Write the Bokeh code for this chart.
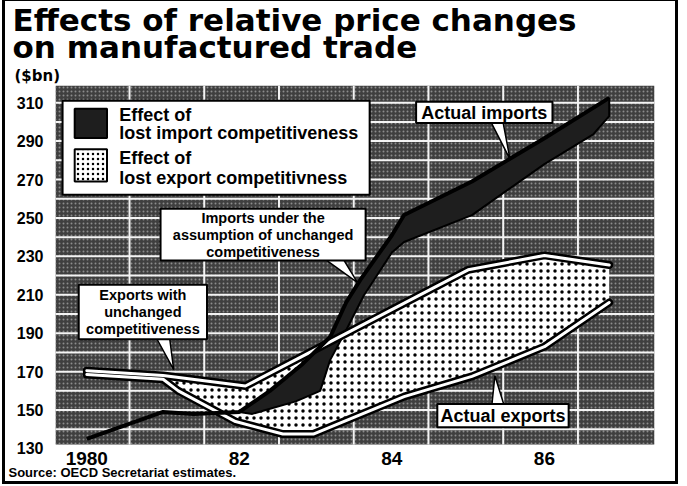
from bokeh.plotting import figure
from bokeh.models import Range1d, FixedTicker, Title
from bokeh.core.properties import value
from bokeh.embed import file_html
from bokeh.resources import INLINE

# ---------------- data ($bn) ----------------
imp_actual_x = [1980.0, 1981.0, 1981.4, 1982.0, 1982.4, 1982.83, 1983.19, 1983.4, 1983.59, 1984.0, 1984.16, 1985.05, 1986.0, 1986.85]
imp_actual_y = [135, 149, 148, 149, 160, 174, 188, 206, 218, 241, 251.5, 269, 291.5, 312.5]

imp_unch_x = [1982.0, 1982.17, 1982.74, 1983.06, 1983.19, 1983.4, 1983.63, 1984.0, 1984.16, 1985.05, 1986.0, 1986.64, 1986.85]
imp_unch_y = [149, 148, 154.5, 160, 176, 191.5, 209.5, 232, 237.5, 251.5, 278, 293.5, 303]

exp_actual_x = [1980.0, 1981.0, 1981.2, 1981.95, 1982.57, 1982.97, 1984.16, 1985.05, 1986.0, 1986.85]
exp_actual_y = [168.5, 166, 160, 144, 137.5, 137.5, 157, 167.5, 183, 206]

exp_unch_x = [1980.0, 1981.0, 1982.08, 1984.42, 1985.0, 1986.0, 1986.85]
exp_unch_y = [170.5, 168, 162.5, 211, 223, 230.5, 225.5]

y_ticks = [130, 150, 170, 190, 210, 230, 250, 270, 290, 310]
x_ticks = [1980, 1982, 1984, 1986]
x_tick_labels = ["1980", "82", "84", "86"]

title_lines = ["Effects of relative price changes", "on manufactured trade"]
unit_text = "($bn)"
source_text = "Source: OECD Secretariat estimates."
legend_texts = [["Effect of", "lost import competitiveness"], ["Effect of", "lost export competitivness"]]

# ---------------- layout helpers (page pixel -> data) ----------------
OX, OY = 5, 1            # page position of the figure's canvas
CW, CH = 670, 480        # canvas size
FL, FR, FT, FB = 55, 648, 85, 447   # frame edges, page pixels


def X(px):
    return 1980 + (px - 86) / 75.5


def Y(py):
    return 130 + (444 - py) / 1.9


FONT = "Liberation Sans"

p = figure(width=CW, height=CH, output_backend="svg", toolbar_location=None,
           x_range=Range1d(X(FL), X(FR)), y_range=Range1d(Y(FB), Y(FT)),
           min_border_left=FL - OX, min_border_right=OX + CW - FR,
           min_border_top=FT - OY, min_border_bottom=OY + CH - FB)
p.styles = {"box-sizing": "content-box", "border": "3px solid black",
            "border-top-width": "1px", "margin-left": "2px", "margin-top": "0px"}
p.outline_line_color = None
p.background_fill_color = "white"
p.border_fill_color = "white"
p.xgrid.visible = False
p.ygrid.visible = False

# axes
for ax in (p.yaxis[0], p.xaxis[0]):
    ax.axis_line_color = None
    ax.major_tick_line_color = None
    ax.minor_tick_line_color = None
    ax.major_tick_out = 0
    ax.major_tick_in = 0
    ax.minor_tick_out = 0
    ax.minor_tick_in = 0
    ax.major_label_text_font = FONT
    ax.major_label_text_font_style = "bold"
    ax.major_label_text_color = "black"
p.yaxis[0].ticker = FixedTicker(ticks=y_ticks)
p.yaxis[0].major_label_text_font_size = "16px"
p.yaxis[0].major_label_standoff = 12
p.xaxis[0].ticker = FixedTicker(ticks=x_ticks)
p.xaxis[0].major_label_overrides = {t: l for t, l in zip(x_ticks, x_tick_labels)}
p.xaxis[0].major_label_text_font_size = "19px"
p.xaxis[0].major_label_standoff = 0

# textured background
p.quad(left=X(FL), right=X(FR), top=Y(FT), bottom=Y(440), fill_color="#3f3f3f",
       hatch_pattern="dot", hatch_color="#8c8c8c", hatch_scale=4, hatch_weight=1.3,
       line_color=None)
grid_y = list(range(140, 320, 10))
p.segment(x0=[X(FL)] * len(grid_y), y0=grid_y, x1=[X(FR)] * len(grid_y), y1=grid_y,
          line_color="#f4f4f4", line_width=2)
grid_x = [1980.56 + 0.98 * k for k in range(7)]
p.segment(x0=grid_x, y0=[Y(440)] * len(grid_x), x1=grid_x, y1=[Y(FT)] * len(grid_x),
          line_color="#f4f4f4", line_width=2)

# stippled export area
p.patch(exp_unch_x + exp_actual_x[::-1], exp_unch_y + exp_actual_y[::-1],
        fill_color="white", hatch_pattern="dot", hatch_color="black", hatch_scale=7,
        hatch_weight=1.4, line_color=None)

# dark import band
band_x = [x for x in imp_actual_x if x >= 1982.0]
band_y = [y for x, y in zip(imp_actual_x, imp_actual_y) if x >= 1982.0]
p.patch(band_x + imp_unch_x[::-1], band_y + imp_unch_y[::-1],
        fill_color="#1e1e1e", line_color="black", line_width=2)

# export lines (white core with black edges)
for xs, ys in ((exp_unch_x, exp_unch_y), (exp_actual_x, exp_actual_y)):
    p.line(xs, ys, line_color="black", line_width=8, line_join="round", line_cap="round")
for xs, ys in ((exp_unch_x, exp_unch_y), (exp_actual_x, exp_actual_y)):
    p.line(xs, ys, line_color="white", line_width=3, line_join="round", line_cap="round")

# actual imports line
p.line(imp_actual_x, imp_actual_y, line_color="black", line_width=4, line_join="round")


def box(l, t, r, b):
    p.quad(left=X(l), right=X(r), top=Y(t), bottom=Y(b), fill_color="white",
           line_color="black", line_width=2)


def pointer(pts):
    p.patch([X(a) for a, _ in pts], [Y(b) for _, b in pts], fill_color="white",
            line_color="black", line_width=1.5)


def txt(px, py, lines, size, align="center", style="bold", step=17):
    p.text(x=[X(px)] * len(lines), y=[Y(py + i * step) for i in range(len(lines))], text=lines,
           text_font=value(FONT), text_font_style=style, text_font_size=size,
           text_align=align, text_baseline="middle", text_color="black")


# legend
box(62, 100, 366, 193)
p.quad(left=X(74), right=X(106), top=Y(108), bottom=Y(137), fill_color="#1e1e1e",
       line_color="black", line_width=2)
p.quad(left=X(74), right=X(106), top=Y(148), bottom=Y(180), fill_color="white",
       hatch_pattern="dot", hatch_color="black", hatch_scale=5, hatch_weight=1.4,
       line_color="black", line_width=2)
txt(118, 114, legend_texts[0], "18px", align="left", step=18)
txt(118, 157, legend_texts[1], "18px", align="left", step=19)

# callouts
pointer([(486, 121), (498, 121), (505, 158)])
box(412, 101, 547, 122)
txt(479.5, 112, ["Actual imports"], "18px")

pointer([(487, 401), (499, 401), (490, 372)])
box(433, 400, 563, 423)
txt(498, 412, ["Actual exports"], "18px")

pointer([(322, 257), (340, 257), (354, 280)])
box(159, 207, 362, 258)
txt(260.5, 216, ["Imports under the", "assumption of unchanged", "competitiveness"], "14.5px")

pointer([(155, 335), (168, 335), (172, 366)])
box(78, 282, 205, 336)
txt(141.5, 292, ["Exports with", "unchanged", "competitiveness"], "14.5px")

# titles (panels outside the frame); the first added sits next to the frame
p.add_layout(Title(text=unit_text, align="left", offset=-(FL - 14), standoff=1,
                   text_font="DejaVu Sans", text_font_style="bold", text_font_size="15px",
                   text_color="black"), "above")
p.add_layout(Title(text=title_lines[1], align="left", offset=-(FL - 12), standoff=0,
                   text_font="DejaVu Sans", text_font_style="bold", text_font_size="31px",
                   text_color="black"), "above")
p.add_layout(Title(text=title_lines[0], align="left", offset=-(FL - 12), standoff=-22,
                   text_font="DejaVu Sans", text_font_style="bold", text_font_size="31px",
                   text_color="black"), "above")
p.add_layout(Title(text=source_text, align="left", offset=-(FL - 8), standoff=-9,
                   text_font=FONT, text_font_style="bold", text_font_size="13px",
                   text_color="black"), "below")

open("out.html", "w").write(file_html(p, INLINE))
